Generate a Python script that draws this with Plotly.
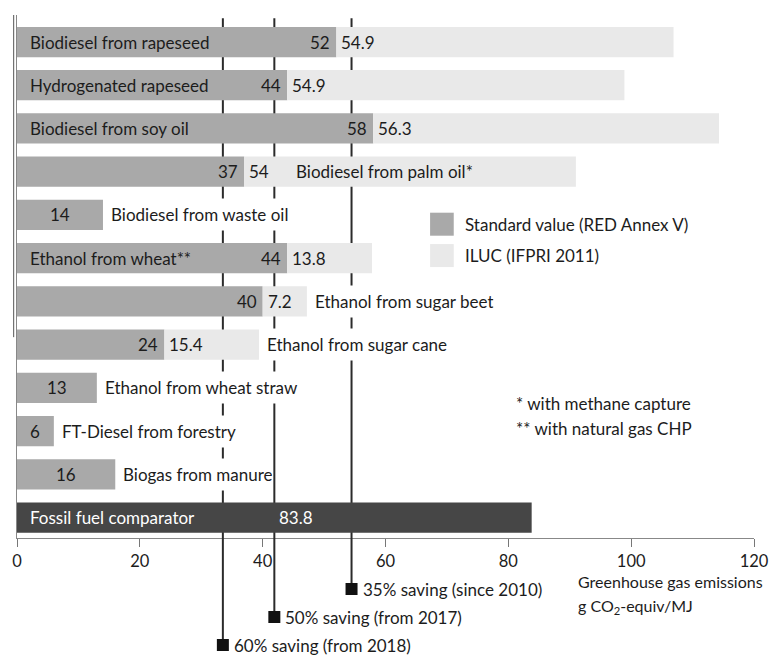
import plotly.graph_objects as go

# Greenhouse gas emissions of biofuel pathways (g CO2-equiv/MJ)
categories = [
    "Biodiesel from rapeseed", "Hydrogenated rapeseed", "Biodiesel from soy oil",
    "Biodiesel from palm oil*", "Biodiesel from waste oil", "Ethanol from wheat**",
    "Ethanol from sugar beet", "Ethanol from sugar cane", "Ethanol from wheat straw",
    "FT-Diesel from forestry", "Biogas from manure", "Fossil fuel comparator",
]
standard_value = [52, 44, 58, 37, 14, 44, 40, 24, 13, 6, 16, None]
iluc_value = [54.9, 54.9, 56.3, 54, None, 13.8, 7.2, 15.4, None, None, None, None]
fossil_value = 83.8
saving_share = [35, 50, 60]
saving_labels = ["35% saving (since 2010)", "50% saving (from 2017)", "60% saving (from 2018)"]
x_ticks = [0, 20, 40, 60, 80, 100, 120]

# where each pathway name sits: inside the bar, after the values, or after the bar
label_place = ["inside", "inside", "inside", "after_values", "outside", "inside",
               "outside", "outside", "outside", "outside", "outside", "inside"]

C_STD = "#a9a9a9"
C_ILUC = "#e9e9e9"
C_FOSSIL = "#464646"
C_TEXT = "#1c1c1c"
C_LINE = "#2b2b2b"
FONT = "Lato"
FS = 17
FS_AXIS = 15.5

rows = list(range(len(categories)))
fossil_row = rows[-1]

fig = go.Figure()
fig.add_trace(go.Bar(
    y=rows[:-1], x=standard_value[:-1], orientation="h", width=0.7,
    marker=dict(color=C_STD, line=dict(width=0)), name="Standard value (RED Annex V)",
))
fig.add_trace(go.Bar(
    y=rows[:-1], x=iluc_value[:-1], base=standard_value[:-1], orientation="h", width=0.7,
    marker=dict(color=C_ILUC, line=dict(width=0)), name="ILUC (IFPRI 2011)",
))
fig.add_trace(go.Bar(
    y=[fossil_row], x=[fossil_value], orientation="h", width=0.7,
    marker=dict(color=C_FOSSIL, line=dict(width=0)), name="Fossil fuel comparator",
))

ann = []
font = dict(family=FONT, size=FS, color=C_TEXT)
white_font = dict(family=FONT, size=FS, color="white")

for i, name in enumerate(categories):
    std = standard_value[i]
    ilu = iluc_value[i]
    if i == fossil_row:
        ann.append(dict(x=0, y=i, text=name, xanchor="left", xshift=11, showarrow=False,
                        font=white_font))
        ann.append(dict(x=fossil_value / 2, y=i, text=f"{fossil_value:g}", xanchor="left",
                        xshift=3, showarrow=False, font=white_font))
        continue
    total = std + (ilu or 0)
    if ilu is not None:
        ann.append(dict(x=std, y=i, text=f"{std:g}", xanchor="right", xshift=-4,
                        showarrow=False, font=font))
        ann.append(dict(x=std, y=i, text=f"{ilu:g}", xanchor="left", xshift=3,
                        showarrow=False, font=font))
    else:
        ann.append(dict(x=std / 2, y=i, text=f"{std:g}", xanchor="center",
                        showarrow=False, font=font))
    place = label_place[i]
    if place == "inside":
        ann.append(dict(x=0, y=i, text=name, xanchor="left", xshift=11,
                        showarrow=False, font=font))
    elif place == "after_values":
        ann.append(dict(x=std, y=i, text=name, xanchor="left", xshift=50,
                        showarrow=False, font=font))
    else:
        # white box hides the saving threshold lines behind the label
        ann.append(dict(x=total, y=i, text=name, xanchor="left", xshift=7,
                        showarrow=False, font=font, bgcolor="white", height=31,
                        borderpad=0))

shapes = []
# saving thresholds relative to the fossil comparator
drop = [51, 79, 107]
for k, (share, lab) in enumerate(zip(saving_share, saving_labels)):
    xv = fossil_value * (1 - share / 100)
    shapes.append(dict(type="line", layer="below", xref="x", yref="paper",
                       x0=xv, x1=xv, y0=0, y1=0.994,
                       line=dict(color=C_LINE, width=2)))
    shapes.append(dict(type="line", layer="above", xref="x", yref="paper",
                       ysizemode="pixel", yanchor=0, x0=xv, x1=xv, y0=0, y1=-drop[k],
                       line=dict(color=C_LINE, width=2)))
    shapes.append(dict(type="rect", layer="above", xref="x", yref="paper",
                       xsizemode="pixel", ysizemode="pixel", xanchor=xv, yanchor=0,
                       x0=-6, x1=6, y0=-drop[k] - 6, y1=-drop[k] + 6,
                       fillcolor="#111111", line=dict(width=0)))
    ann.append(dict(x=xv, xref="x", y=0, yref="paper", yshift=-drop[k], text=lab,
                    xanchor="left", yanchor="middle", xshift=9, showarrow=False,
                    font=font))

# secondary rule at the left edge
shapes.append(dict(type="line", xref="paper", yref="paper", x0=-0.0045, x1=-0.0045,
                   y0=0.384, y1=1, line=dict(color="#555555", width=1)))

# legend keys
legend_items = [("Standard value (RED Annex V)", C_STD, 0.600),
                ("ILUC (IFPRI 2011)", C_ILUC, 0.540)]
for text, col, yc in legend_items:
    shapes.append(dict(type="rect", xref="paper", yref="paper", x0=0.5605, x1=0.5926,
                       y0=yc - 0.022, y1=yc + 0.022, fillcolor=col, line=dict(width=0)))
    ann.append(dict(x=0.605, y=yc, xref="paper", yref="paper", text=text,
                    xanchor="left", yanchor="middle", showarrow=False, font=font))

# footnotes
ann.append(dict(x=0.674, y=0.258, xref="paper", yref="paper", text="* with methane capture",
                xanchor="left", yanchor="middle", showarrow=False, font=font))
ann.append(dict(x=0.674, y=0.210, xref="paper", yref="paper",
                text="** with natural gas CHP", xanchor="left", yanchor="middle",
                showarrow=False, font=font))

# axis title
axis_font = dict(family=FONT, size=FS_AXIS + 0.5, color=C_TEXT)
ann.append(dict(x=0.7586, y=-0.0841, xref="paper", yref="paper",
                text="Greenhouse gas emissions", xanchor="left", yanchor="middle",
                showarrow=False, font=axis_font))
ann.append(dict(x=0.7586, y=-0.1319, xref="paper", yref="paper",
                text="g CO<sub>2</sub>-equiv/MJ", xanchor="left", yanchor="middle",
                showarrow=False, font=axis_font))

fig.update_layout(
    width=781, height=657,
    margin=dict(l=14, r=20, t=15, b=119),
    paper_bgcolor="white", plot_bgcolor="white",
    barmode="overlay", showlegend=False,
    annotations=ann, shapes=shapes,
    xaxis=dict(range=[0, 120], tickvals=x_ticks, ticks="outside", ticklen=8,
               tickcolor="#777777", showline=True, linecolor="#888888", linewidth=1,
               showgrid=False, zeroline=False,
               tickfont=dict(family=FONT, size=FS_AXIS + 1, color=C_TEXT)),
    yaxis=dict(range=[11.474, -0.625], showticklabels=False, ticks="",
               showline=True, linecolor="#888888", linewidth=1,
               showgrid=False, zeroline=False),
)

fig.write_html("out.html")
